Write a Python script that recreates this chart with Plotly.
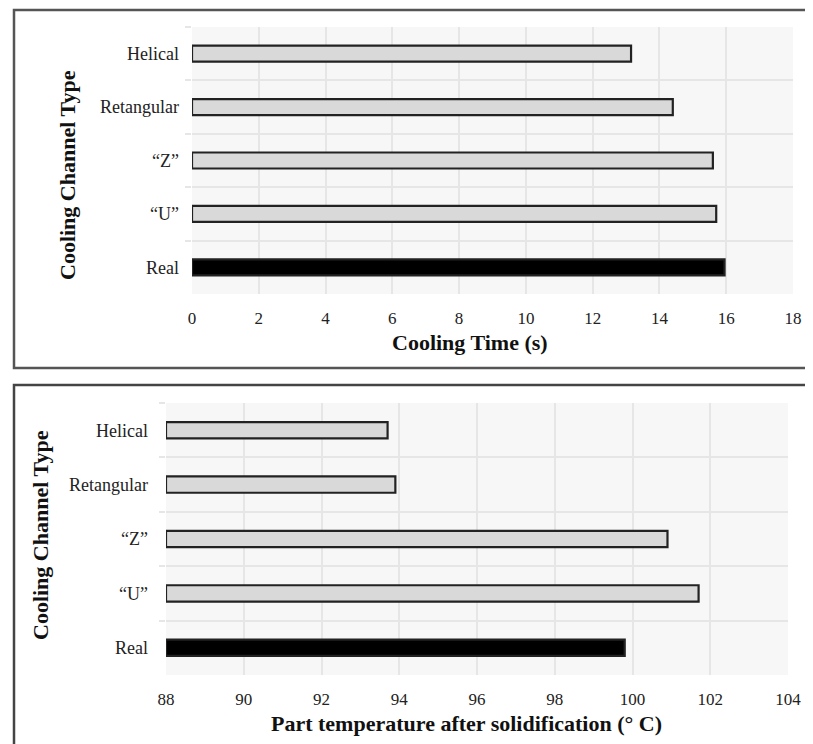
import plotly.graph_objects as go

categories = ["Helical", "Retangular", "“Z”", "“U”", "Real"]
cooling_time = [13.15, 14.4, 15.6, 15.7, 15.95]
part_temp = [93.7, 93.9, 100.9, 101.7, 99.8]
bar_colors = ["#d9d9d9", "#d9d9d9", "#d9d9d9", "#d9d9d9", "#000000"]
x1_ticks = [0, 2, 4, 6, 8, 10, 12, 14, 16, 18]
x2_ticks = [88, 90, 92, 94, 96, 98, 100, 102, 104]

W, H = 813, 744
OFF = 8  # page body margin
FONT = "Liberation Serif"

def px_x(p):
    return (p - OFF) / W

def px_y(p):
    return 1 - (p - OFF) / H

fig = go.Figure()

fig.add_trace(go.Bar(
    x=cooling_time, y=categories, orientation="h",
    marker=dict(color=bar_colors, line=dict(color="#222222", width=2.2)),
    width=0.3, xaxis="x", yaxis="y", showlegend=False,
))
fig.add_trace(go.Bar(
    x=[v - 88 for v in part_temp], base=88, y=categories, orientation="h",
    marker=dict(color=bar_colors, line=dict(color="#222222", width=2.2)),
    width=0.3, xaxis="x2", yaxis="y2", showlegend=False,
))

grid = "#e6e6e6"
common_x = dict(showgrid=True, gridcolor=grid, gridwidth=1.5, zeroline=False,
                tickfont=dict(family=FONT, size=17, color="#222"),
                ticks="", ticklabelstandoff=12, showline=False, automargin=False)
common_y = dict(type="category", categoryorder="array", categoryarray=categories,
                autorange="reversed", tickson="boundaries", showgrid=True,
                gridcolor=grid, gridwidth=1.5, ticks="outside", ticklen=6,
                tickcolor=grid, tickwidth=1.5,
                tickfont=dict(family=FONT, size=18, color="#222"),
                zeroline=False, automargin=False)

fig.update_layout(
    width=W, height=H,
    margin=dict(l=0, r=0, t=0, b=0, autoexpand=False),
    paper_bgcolor="white",
    plot_bgcolor="#f7f7f7",
    bargap=0.7,
    xaxis=dict(domain=[px_x(192), px_x(793)], range=[0, 18], tickvals=x1_ticks,
               anchor="y", **common_x),
    yaxis=dict(domain=[px_y(294), px_y(27)], anchor="x", ticklabelstandoff=12, **common_y),
    xaxis2=dict(domain=[px_x(166), px_x(788)], range=[88, 104], tickvals=x2_ticks,
                anchor="y2", **common_x),
    yaxis2=dict(domain=[px_y(675), px_y(403)], anchor="x2", ticklabelstandoff=17, **common_y),
)

# Border boxes
fig.add_shape(type="rect", xref="paper", yref="paper",
              x0=px_x(14), x1=1.05, y0=px_y(368), y1=px_y(10),
              line=dict(color="#555", width=2.5), fillcolor="rgba(0,0,0,0)", layer="below")
fig.add_shape(type="rect", xref="paper", yref="paper",
              x0=px_x(14), x1=1.05, y0=-0.05, y1=px_y(385),
              line=dict(color="#444", width=2.5), fillcolor="rgba(0,0,0,0)", layer="below")

# Titles
def title(text, x, y, size, angle=0):
    fig.add_annotation(text=text, xref="paper", yref="paper",
                       x=px_x(x), y=px_y(y), xanchor="center", yanchor="middle",
                       showarrow=False, textangle=angle,
                       font=dict(family=FONT, size=size, color="#111"))

title("<b>Cooling Time (s)</b>", 470, 343, 22)
title("<b>Part temperature after solidification (° C)</b>", 466, 723, 22)
title("<b>Cooling Channel Type</b>", 67, 175, 22, -90)
title("<b>Cooling Channel Type</b>", 40, 535, 22, -90)

fig.write_html("out.html")
